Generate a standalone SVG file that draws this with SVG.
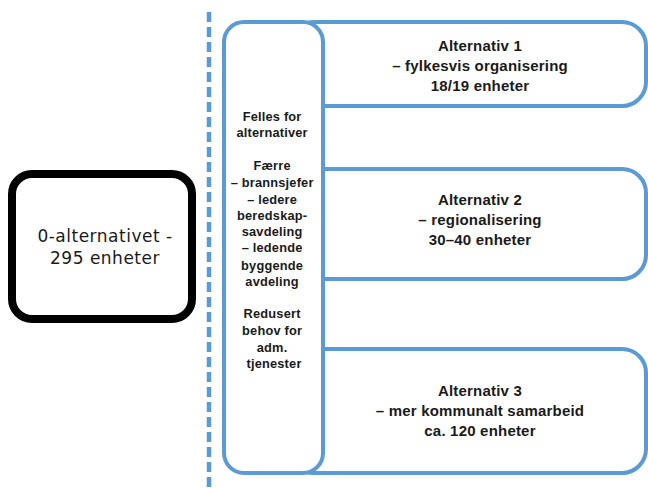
<svg xmlns="http://www.w3.org/2000/svg" width="648" height="488" viewBox="0 0 648 488">
<style>
.blue{fill:#fff;stroke:#5B9BD5;stroke-width:4}
.t{font-family:"Liberation Sans",Arial,sans-serif;fill:#1a1a1a;text-anchor:middle}
.alt{font-size:15px;font-weight:bold;letter-spacing:0.2px}
.fel{font-size:12.8px;font-weight:bold;letter-spacing:0.2px}
.zero{font-family:"DejaVu Sans",sans-serif;font-size:17px;letter-spacing:0.5px}
</style>
<rect width="648" height="488" fill="#fff"/>
<g id="connectors">
<line x1="209" y1="12" x2="209" y2="488" stroke="#5B9BD5" stroke-width="4.5" stroke-dasharray="10,5"/>
</g>
<g id="zero">
<rect x="12" y="174" width="180" height="145" rx="20" fill="#fff" stroke="#000" stroke-width="8"/>
<text class="t zero" x="105" y="242">0-alternativet -</text>
<text class="t zero" x="105" y="264">295 enheter</text>
</g>
<g id="alt1">
<rect class="blue" x="290" y="22" width="356" height="84" rx="24"/>
<text class="t alt" x="480" y="51">Alternativ 1</text>
<text class="t alt" x="480" y="71">– fylkesvis organisering</text>
<text class="t alt" x="480" y="91">18/19 enheter</text>
</g>
<g id="alt2">
<rect class="blue" x="290" y="169" width="356" height="110" rx="24"/>
<text class="t alt" x="480" y="205">Alternativ 2</text>
<text class="t alt" x="480" y="225">– regionalisering</text>
<text class="t alt" x="480" y="245">30–40 enheter</text>
</g>
<g id="alt3">
<rect class="blue" x="290" y="349" width="356" height="124" rx="24"/>
<text class="t alt" x="480" y="396">Alternativ 3</text>
<text class="t alt" x="480" y="416">– mer kommunalt samarbeid</text>
<text class="t alt" x="480" y="436">ca. 120 enheter</text>
</g>
<g id="felles">
<rect class="blue" x="224" y="22" width="99" height="451" rx="20"/>
<text class="t fel" x="274">
<tspan x="274" y="121">Felles for</tspan>
<tspan x="274" y="137">alternativer</tspan>
<tspan x="274" y="170">Færre</tspan>
<tspan x="274" y="187">– brannsjefer</tspan>
<tspan x="274" y="204">– ledere</tspan>
<tspan x="274" y="220">beredskap-</tspan>
<tspan x="274" y="236">savdeling</tspan>
<tspan x="274" y="252">– ledende</tspan>
<tspan x="274" y="270">byggende</tspan>
<tspan x="274" y="286">avdeling</tspan>
<tspan x="274" y="318">Redusert</tspan>
<tspan x="274" y="335">behov for</tspan>
<tspan x="274" y="352">adm.</tspan>
<tspan x="274" y="368">tjenester</tspan>
</text>
</g>
</svg>
